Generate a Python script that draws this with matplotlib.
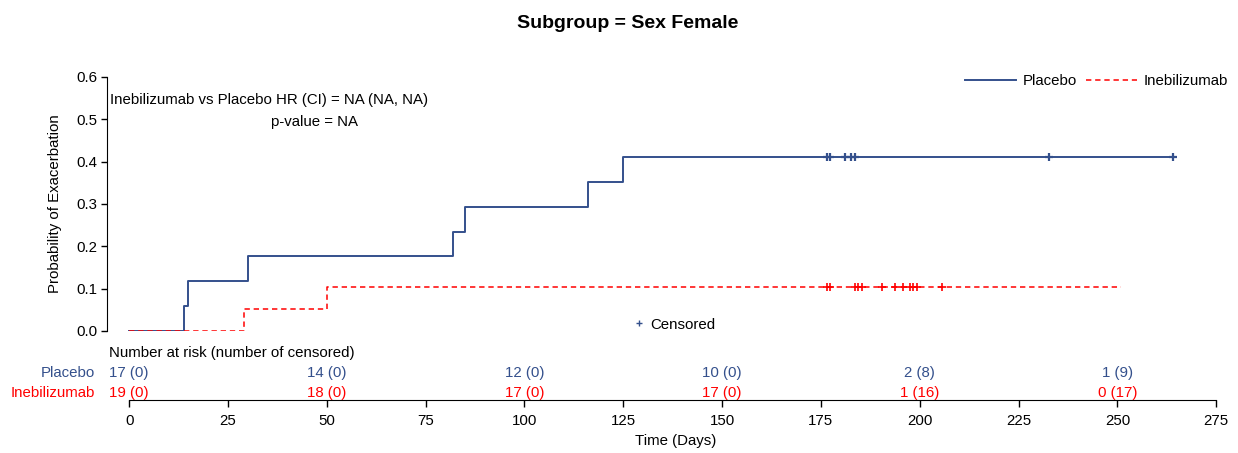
import numpy as np
import matplotlib.pyplot as plt
from matplotlib.lines import Line2D
from matplotlib.transforms import blended_transform_factory

plt.rcParams['font.family'] = ['Liberation Sans', 'DejaVu Sans']

BLUE = '#34508c'
RED = '#ff0000'
FS = 10.8

# step curves (cumulative probability of exacerbation)
placebo_t = [0, 14, 15, 30, 82, 85, 116, 125, 264]
placebo_p = [0.0, 0.059, 0.118, 0.176, 0.235, 0.294, 0.353, 0.412, 0.412]
ineb_t = [0, 29, 50, 251]
ineb_p = [0.0, 0.053, 0.105, 0.105]

# censoring times
placebo_cens = [176.5, 177.3, 181.2, 182.5, 183.7, 232.7, 264]
ineb_cens = [176.5, 177.3, 183.6, 184.5, 185.3, 190.4, 193.8, 195.8,
             197.6, 198.4, 199.4, 205.7]

# number at risk table
risk_times = [0, 50, 100, 150, 200, 250]
placebo_risk = ['17 (0)', '14 (0)', '12 (0)', '10 (0)', '2 (8)', '1 (9)']
ineb_risk = ['19 (0)', '18 (0)', '17 (0)', '17 (0)', '1 (16)', '0 (17)']


def level_at(t, times, probs):
    idx = np.searchsorted(times, t, side='right') - 1
    return probs[idx]


W, H = 1238, 453
fig = plt.figure(figsize=(W / 100, H / 100), dpi=100)
ax = fig.add_axes([107 / W, 1 - 331 / H, 1129 / W, 254 / H])
ax.set_xlim(-5.6, 280)
ax.set_ylim(0, 0.6)

ax.step(placebo_t, placebo_p, where='post', color=BLUE, lw=1.4)
ax.step(ineb_t, ineb_p, where='post', color=RED, lw=1.1, ls=(0, (3.5, 2.5)))

ax.plot(placebo_cens, [level_at(t, placebo_t, placebo_p) for t in placebo_cens],
        ls='none', marker='+', ms=6, mew=1.6, color=BLUE, clip_on=False)
ax.plot(ineb_cens, [level_at(t, ineb_t, ineb_p) for t in ineb_cens],
        ls='none', marker='+', ms=6, mew=1.2, color=RED, clip_on=False)

# axes styling in base-R fashion
for s in ['top', 'right']:
    ax.spines[s].set_visible(False)
ax.spines['left'].set_bounds(0, 0.6)
ax.spines['bottom'].set_bounds(0, 275)
ax.spines['bottom'].set_position(('outward', 49.7))
ax.set_yticks(np.arange(0, 0.61, 0.1))
ax.set_yticklabels([f'{v:.1f}' for v in np.arange(0, 0.61, 0.1)])
ax.set_xticks(np.arange(0, 276, 25))
ax.tick_params(axis='y', length=4, width=1, pad=3, labelsize=FS)
ax.tick_params(axis='x', length=5, width=1, pad=5, labelsize=FS)
ax.set_ylabel('Probability of Exacerbation', fontsize=FS, labelpad=10)
ax.set_xlabel('Time (Days)', fontsize=FS)
ax.xaxis.set_label_coords(0.504, -0.405)

fig.text(628 / W, 1 - 23 / H, 'Subgroup = Sex Female', ha='center', va='center',
         fontsize=14, fontweight='bold')

ax.text(-4.8, 0.546, 'Inebilizumab vs Placebo HR (CI) = NA (NA, NA)',
        ha='left', va='center', fontsize=FS)
ax.text(46.8, 0.494, 'p-value = NA', ha='center', va='center', fontsize=FS)

leg = ax.legend(handles=[Line2D([], [], color=BLUE, lw=1.4),
                         Line2D([], [], color=RED, lw=1.1, ls=(0, (3.5, 2.5)))],
                labels=['Placebo', 'Inebilizumab'], ncol=2, frameon=False,
                fontsize=FS, handlelength=3.4, handletextpad=0.45,
                columnspacing=0.6, loc='center right',
                bbox_to_anchor=(0.9985, 0.985), borderaxespad=0)
ax.add_artist(leg)
ax.legend(handles=[Line2D([], [], ls='none', marker='+', ms=4, mew=1, color=BLUE)],
          labels=['Censored'], frameon=False, fontsize=FS, handlelength=0.6,
          handletextpad=0.45, loc='center', bbox_to_anchor=(0.503, 0.025),
          borderaxespad=0)

# number at risk
tr = blended_transform_factory(ax.transData, fig.transFigure)
fig.text(109 / W, 1 - 353 / H, 'Number at risk (number of censored)',
         ha='left', va='center', fontsize=FS)
ax.text(-8.6, 1 - 373 / H, 'Placebo', color=BLUE, ha='right', va='center',
        fontsize=FS, transform=tr)
ax.text(-8.6, 1 - 393 / H, 'Inebilizumab', color=RED, ha='right', va='center',
        fontsize=FS, transform=tr)
for t, a, b in zip(risk_times, placebo_risk, ineb_risk):
    ax.text(t, 1 - 373 / H, a, color=BLUE, ha='center', va='center',
            fontsize=FS, transform=tr)
    ax.text(t, 1 - 393 / H, b, color=RED, ha='center', va='center',
            fontsize=FS, transform=tr)

fig.savefig('out.png', dpi=100)
